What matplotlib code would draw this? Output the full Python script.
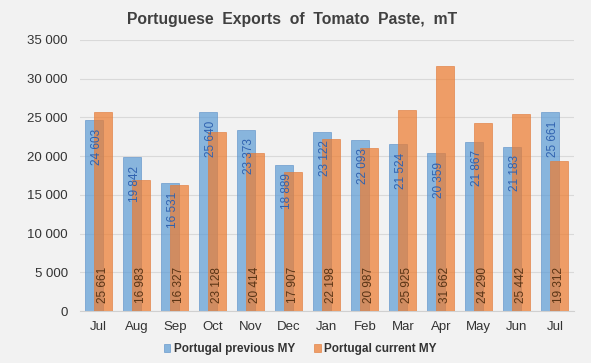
import matplotlib.pyplot as plt
from matplotlib.ticker import FuncFormatter
import numpy as np

months = ["Jul", "Aug", "Sep", "Oct", "Nov", "Dec", "Jan", "Feb", "Mar", "Apr", "May", "Jun", "Jul"]
previous_my = [24603, 19842, 16531, 25640, 23373, 18889, 23122, 22093, 21524, 20359, 21867, 21183, 25661]
current_my = [25661, 16983, 16327, 23128, 20414, 17907, 22198, 20987, 25925, 31662, 24290, 25442, 19312]


def fmt(v):
    return f"{int(v):,}".replace(",", " ")


def main():
    plt.rcParams["font.family"] = ["Liberation Sans", "DejaVu Sans"]
    bg = "#f2f2f2"
    fig = plt.figure(figsize=(5.91, 3.63), dpi=100, facecolor=bg)
    ax = fig.add_axes([0.135, 0.143, 0.836, 0.747], facecolor=bg)

    x = np.arange(len(months))
    w = 0.47
    off = 0.12
    ax.bar(x - off, previous_my, w, color="#5b9bd5", alpha=0.7, edgecolor="#5b8fc8",
           linewidth=0.6, label="Portugal previous MY", zorder=2)
    ax.bar(x + off, current_my, w, color="#ed7d31", alpha=0.72, edgecolor="#e07c3c",
           linewidth=0.6, label="Portugal current MY", zorder=3)

    for xi, v in zip(x, previous_my):
        ax.annotate(fmt(v), (xi - off + 0.08, v), xytext=(0, -6), textcoords="offset points",
                    rotation=90, ha="center", va="top", fontsize=8.5, color="#2f62b0", zorder=4)
    for xi, v in zip(x, current_my):
        ax.annotate(fmt(v), (xi + off, 0), xytext=(0, 6), textcoords="offset points",
                    rotation=90, ha="center", va="bottom", fontsize=8.5, color="#5a3414", zorder=4)

    ax.set_xlim(-0.5, len(months) - 0.5)
    ax.set_ylim(0, 35000)
    ax.set_yticks(range(0, 35001, 5000))
    ax.yaxis.set_major_formatter(FuncFormatter(lambda v, p: fmt(v)))
    ax.set_xticks(x)
    ax.set_xticklabels(months)
    ax.tick_params(axis="both", length=0, labelsize=9.5, colors="#333333", pad=7)
    ax.tick_params(axis="y", pad=8.5)
    ax.grid(axis="y", color="#d9d9d9", linewidth=0.8, zorder=0)
    ax.set_axisbelow(True)
    for s in ["top", "right", "left"]:
        ax.spines[s].set_visible(False)
    ax.spines["bottom"].set_color("#d0d0d0")

    fig.text(0.495, 0.946, "Portuguese  Exports  of  Tomato  Paste,  mT", ha="center", va="center",
             fontsize=11.3, fontweight="bold", color="#404040")
    fig.legend(loc="center", bbox_to_anchor=(0.508, 0.038), ncol=2, frameon=False,
               prop={"size": 8.5, "weight": "bold"},
               handlelength=0.55, handleheight=0.55, handletextpad=0.3, columnspacing=1.6,
               labelcolor="#333333")

    fig.savefig("out.png", dpi=100, facecolor=bg)
    plt.close(fig)


if __name__ == "__main__":
    main()
